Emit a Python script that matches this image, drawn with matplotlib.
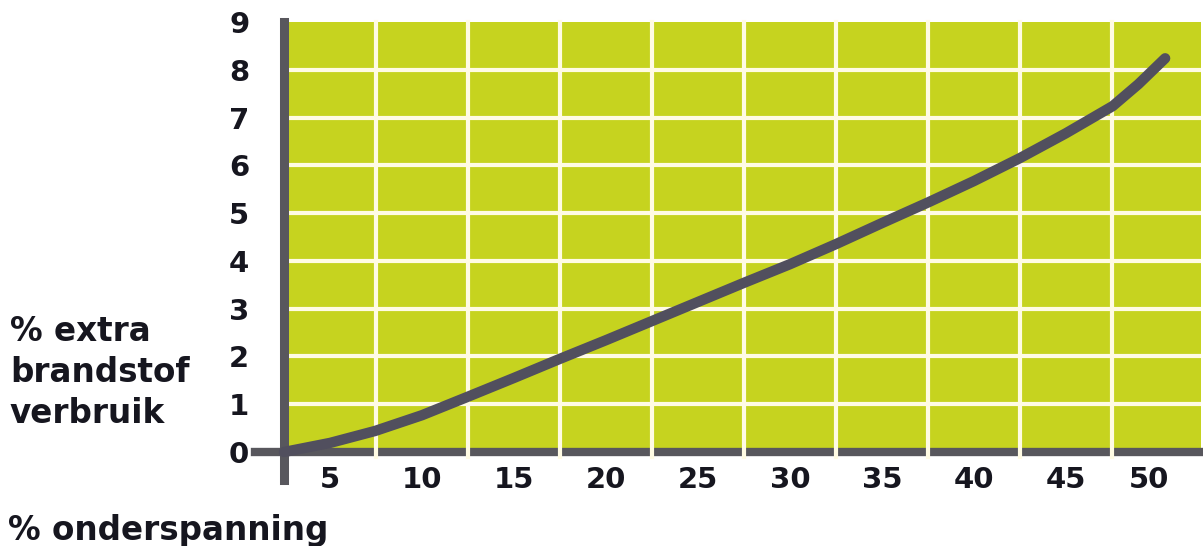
import numpy as np
import matplotlib
matplotlib.use('Agg')
from matplotlib import pyplot as plt

# curve (x in % onderspanning, y in % extra verbruik)
x_pts = [2.5, 5, 7.45, 10, 12.45, 15, 17.5, 20, 22.5, 25, 27.5, 30,
         32.5, 35, 37.55, 40, 42.5, 45, 47.55, 48.95, 50.4]
y_pts = [0, 0.19, 0.44, 0.77, 1.15, 1.55, 1.95, 2.34, 2.74, 3.14, 3.54, 3.93,
         4.35, 4.79, 5.23, 5.67, 6.15, 6.67, 7.24, 7.70, 8.24]

x_labels = ['5', '10', '15', '20', '25', '30', '35', '40', '45', '50']
x_label_pos = [5, 10, 15, 20, 25, 30, 35, 40, 45, 49.5]
x_grid = [7.5, 12.5, 17.5, 22.5, 27.5, 32.5, 37.5, 42.5, 47.5]
y_ticks = [0, 1, 2, 3, 4, 5, 6, 7, 8, 9]
y_grid = [1, 2, 3, 4, 5, 6, 7, 8]

GREEN = '#c6d31f'
GRID = '#fffbe4'
AXIS = '#58575d'
LINE = '#514f5e'
TEXT = '#16161f'

W, H = 1203, 546
fig = plt.figure(figsize=(W / 100, H / 100), dpi=100)
ax = fig.add_axes([284 / W, (H - 452) / H, (1201 - 284) / W, (452 - 22) / H])
ax.set_facecolor(GREEN)
ax.set_xlim(2.5, 52.35)
ax.set_ylim(0, 9)

for s in ax.spines.values():
    s.set_visible(False)

# x axis bar (sticks out left of the y axis)
ax.axhline(0, xmin=-0.032, xmax=1, color=AXIS, lw=6, clip_on=False, zorder=2)

for g in y_grid:
    ax.axhline(g, color=GRID, lw=3, zorder=1)
for g in x_grid:
    ax.axvline(g, ymin=-0.012, ymax=1, color=GRID, lw=3, clip_on=False, zorder=3)

# y axis bar (sticks out below the x axis)
ax.axvline(2.5, ymin=-0.065, ymax=1, color=AXIS, lw=6.5, clip_on=False, zorder=4)

ax.plot(x_pts, y_pts, color=LINE, lw=7.5, solid_capstyle='round',
        solid_joinstyle='round', zorder=5, clip_on=False)

ax.set_xticks(x_label_pos)
ax.set_xticklabels(x_labels)
ax.set_yticks(y_ticks)
ax.tick_params(length=0)
ax.tick_params(axis='x', pad=10)
ax.tick_params(axis='y', pad=25)
for lab in ax.get_xticklabels() + ax.get_yticklabels():
    lab.set_fontsize(21)
    lab.set_fontweight('bold')
    lab.set_color(TEXT)

# left label, three lines
for txt, base in [('% extra', 341), ('brandstof', 382), ('verbruik', 423)]:
    fig.text(10 / W, 1 - base / H, txt, fontsize=23.5, fontweight='bold',
             color=TEXT, va='baseline', ha='left')

fig.text(8 / W, 1 - 540 / H, '% onderspanning', fontsize=23.5, fontweight='bold',
         color=TEXT, va='baseline', ha='left')

fig.savefig('out.png', dpi=100, facecolor='white')
